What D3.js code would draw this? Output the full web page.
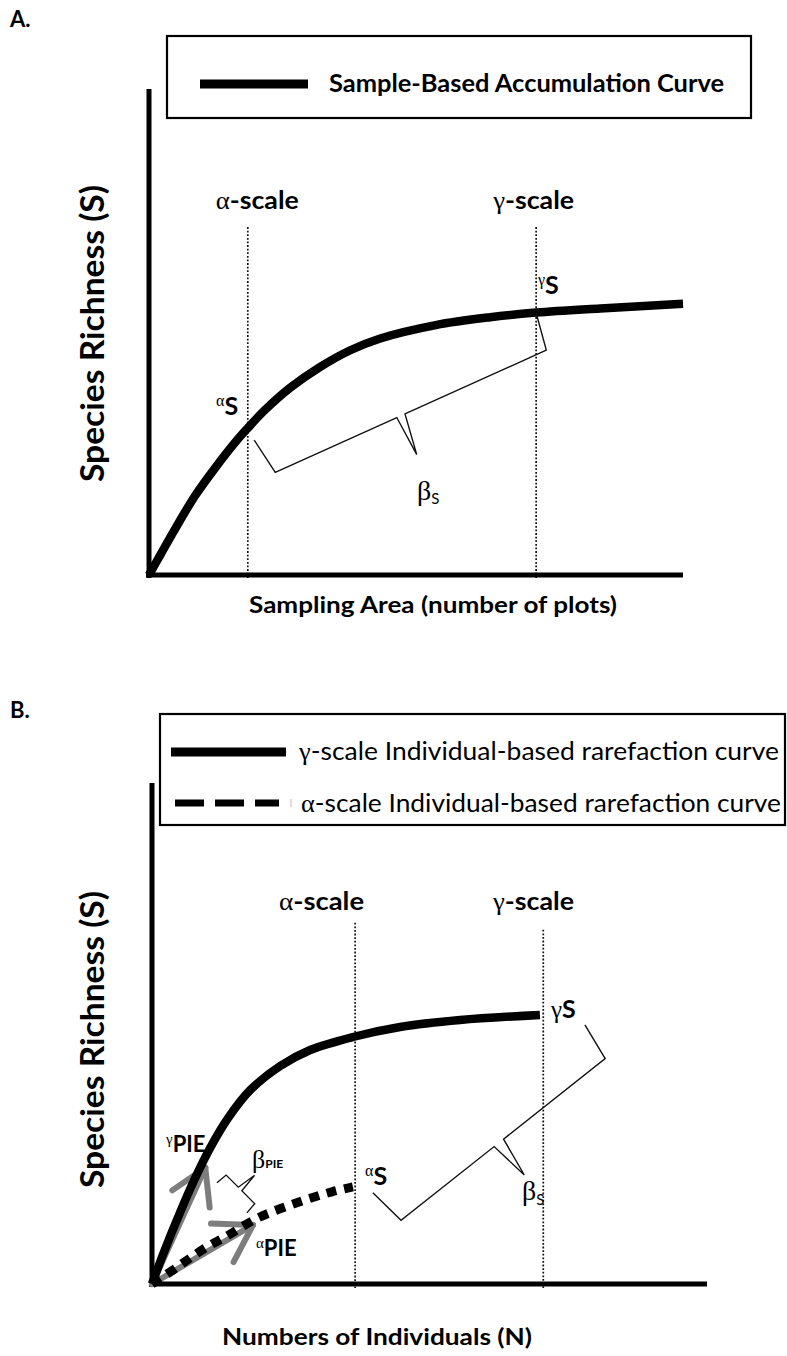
<!DOCTYPE html>
<html>
<head>
<meta charset="utf-8">
<script src="https://cdn.jsdelivr.net/npm/d3@7"></script>
<style>
  body { margin: 0; background: #fff; }
  svg { display: block; }
</style>
</head>
<body>
<svg id="fig" width="787" height="1356"></svg>
<script>
// ---------- Panel A: sample-based accumulation curve ----------
// x = sampling area (relative units, 0-100), y = species richness (relative units, 0-100)
const accumX = [0, 2.1, 4.9, 8.6, 12.4, 16.5, 18.5, 21.7, 26.4, 32.0, 37.6, 43.3, 53.7, 63.9, 72.5, 84.5, 100];
const accumY = [0, 4.3, 10.0, 17.1, 23.2, 29.2, 31.8, 35.7, 40.5, 45.0, 48.6, 51.2, 54.1, 55.8, 56.8, 57.7, 58.7];
const scaleNamesA = ["α", "γ"];
const scalePosA = [18.5, 72.5];

// ---------- Panel B: individual-based rarefaction curves ----------
// x = number of individuals (relative units), y = species richness (relative units)
const gammaX = [0, 2.3, 5.1, 7.8, 10.5, 13.7, 17.7, 23.1, 28.5, 36.2, 44.7, 55.5, 69.9];
const gammaY = [0, 6.8, 14.4, 21.2, 27.2, 33.1, 38.7, 43.5, 46.7, 49.3, 51.3, 52.7, 53.7];
const alphaX = [0, 3.8, 6.9, 9.9, 13.2, 19.1, 26.1, 32.4, 36.2];
const alphaY = [0, 2.8, 5.2, 7.4, 9.4, 13.2, 16.2, 18.4, 19.4];
const scaleNamesB = ["α", "γ"];
const scalePosB = [36.6, 70.5];
// PIE: initial slope of each rarefaction curve, drawn as a tangent arrow
const pieEndX = [9.6, 18.2];   // γ, α
const pieEndY = [23.2, 11.8];

const SANS = "Lato, 'Open Sans', sans-serif";
const GREEK = "'Liberation Serif', 'DejaVu Serif', serif";
const GREY = "#7d7d7d";

const svg = d3.select("#fig");

// text with optional greek / super- / subscript pieces
function addText(g, x, y, parts, o = {}) {
  const t = g.append("text")
    .attr("x", x).attr("y", y)
    .attr("fill", "#000")
    .attr("font-family", SANS)
    .attr("font-size", o.size || 22)
    .attr("font-weight", o.weight || "bold");
  if (o.rotate) t.attr("transform", `rotate(-90 ${x} ${y})`);
  parts.forEach(p => {
    const s = t.append("tspan").text(p.t);
    if (p.greek) s.attr("font-family", GREEK).attr("font-weight", "normal");
    if (p.size) s.attr("font-size", p.size);
    if (p.dy) s.attr("dy", p.dy);
    if (p.weight) s.attr("font-weight", p.weight);
  });
  if (o.len) t.attr("textLength", o.len).attr("lengthAdjust", "spacingAndGlyphs");
  return t;
}

// rotated curly brace between two points, tip pointing to the label side
function brace(g, p1, p2, o) {
  const dx = p2[0] - p1[0], dy = p2[1] - p1[1], L = Math.hypot(dx, dy);
  const u = [dx / L, dy / L], n = [-u[1], u[0]];
  const at = (a, d) => [p1[0] + u[0] * a + n[0] * d, p1[1] + u[1] * a + n[1] * d];
  const t = L * o.tip;
  const half1 = [at(0, 0), at(o.inset, o.depth), at(t - o.gapL, o.depth), at(t, o.tipDepth)];
  const half2 = [at(t, o.tipDepth), at(t + o.gapR, o.depth), at(L - o.inset, o.depth), at(L, 0)];
  const line = d3.line();
  g.append("path").attr("d", line(half1) + line(half2))
    .attr("fill", "none").attr("stroke", "#111").attr("stroke-width", o.width || 1.4)
    .attr("stroke-linejoin", "miter");
}

// grey tangent line from origin ending in an open arrowhead
function tangentArrow(g, from, to, armLen, armAng) {
  g.append("line").attr("x1", from[0]).attr("y1", from[1]).attr("x2", to[0]).attr("y2", to[1])
    .attr("stroke", GREY).attr("stroke-width", 6).attr("stroke-linecap", "round");
  const back = Math.atan2(from[1] - to[1], from[0] - to[0]);
  [armAng, -armAng].forEach(a => {
    g.append("line")
      .attr("x1", to[0]).attr("y1", to[1])
      .attr("x2", to[0] + armLen * Math.cos(back + a))
      .attr("y2", to[1] + armLen * Math.sin(back + a))
      .attr("stroke", GREY).attr("stroke-width", 6).attr("stroke-linecap", "round");
  });
}

function dotted(g, x, y1, y2) {
  g.append("line").attr("x1", x).attr("x2", x).attr("y1", y1).attr("y2", y2)
    .attr("stroke", "#111").attr("stroke-width", 1.7).attr("stroke-dasharray", "1.8,1.8");
}

// ======================= Panel A =======================
const gA = svg.append("g");
const xA = d3.scaleLinear().domain([0, 100]).range([149, 683]);
const yA = d3.scaleLinear().domain([0, 100]).range([575, 113]);

addText(gA, 10, 27, [{ t: "A." }], { size: 22 });

// legend
gA.append("rect").attr("x", 167).attr("y", 36).attr("width", 584).attr("height", 82)
  .attr("fill", "none").attr("stroke", "#000").attr("stroke-width", 2.2);
gA.append("line").attr("x1", 200).attr("x2", 308).attr("y1", 84).attr("y2", 84)
  .attr("stroke", "#000").attr("stroke-width", 9);
addText(gA, 329, 92, [{ t: "Sample-Based Accumulation Curve" }], { size: 25, len: 395 });

// scale markers
scalePosA.forEach(v => dotted(gA, xA(v), yA(75.3), yA(-1.1)));
addText(gA, xA(scalePosA[0]) - 32, 209, [{ t: scaleNamesA[0], greek: true }, { t: "-scale" }], { size: 25, len: 83 });
addText(gA, xA(scalePosA[1]) - 43, 209, [{ t: scaleNamesA[1], greek: true }, { t: "-scale" }], { size: 25, len: 81 });

// axes
gA.append("line").attr("x1", xA(0)).attr("x2", xA(0)).attr("y1", yA(105.2)).attr("y2", yA(0) + 3)
  .attr("stroke", "#000").attr("stroke-width", 5);
gA.append("line").attr("x1", xA(0) - 3).attr("x2", xA(100)).attr("y1", yA(0)).attr("y2", yA(0))
  .attr("stroke", "#000").attr("stroke-width", 5);

// accumulation curve
const lineA = d3.line().x(d => xA(d[0])).y(d => yA(d[1])).curve(d3.curveCatmullRom.alpha(0.5));
gA.append("path").attr("d", lineA(d3.zip(accumX, accumY)))
  .attr("fill", "none").attr("stroke", "#000").attr("stroke-width", 8.5).attr("stroke-linecap", "butt");

// β diversity brace from αS to γS
brace(gA, [xA(19.7), yA(29.2)], [xA(72.5), yA(56.7)],
  { depth: 38, tipDepth: 80, tip: 0.46, gapL: 3, gapR: 6, inset: 6 });

addText(gA, 216, 415, [{ t: "α", greek: true, size: 16, dy: -9 }, { t: "S", dy: 9 }], { size: 25 });
addText(gA, 538, 294, [{ t: "γ", greek: true, size: 16, dy: -9 }, { t: "S", dy: 9 }], { size: 25 });
addText(gA, 417, 500, [{ t: "β", greek: true }, { t: "S", size: 15, dy: 4, weight: "normal" }], { size: 28, weight: "normal" });

// axis titles
addText(gA, 249, 613, [{ t: "Sampling Area (number of plots)" }], { size: 23, len: 368 });
addText(gA, 104, 482, [{ t: "Species Richness (S)" }], { size: 32, len: 297, rotate: true });

// ======================= Panel B =======================
const gB = svg.append("g");
const xB = d3.scaleLinear().domain([0, 100]).range([152, 707]);
const yB = d3.scaleLinear().domain([0, 100]).range([1284, 783]);

addText(gB, 10, 718, [{ t: "B." }], { size: 22 });

// legend
gB.append("rect").attr("x", 160).attr("y", 714).attr("width", 625).attr("height", 111)
  .attr("fill", "none").attr("stroke", "#000").attr("stroke-width", 2.2);
gB.append("line").attr("x1", 171).attr("x2", 286).attr("y1", 752).attr("y2", 752)
  .attr("stroke", "#000").attr("stroke-width", 9);
gB.append("line").attr("x1", 175).attr("x2", 279).attr("y1", 803).attr("y2", 803)
  .attr("stroke", "#000").attr("stroke-width", 7).attr("stroke-dasharray", "29,11");
gB.append("line").attr("x1", 291).attr("x2", 291).attr("y1", 799).attr("y2", 807)
  .attr("stroke", "#bbb").attr("stroke-width", 1);
addText(gB, 299, 760, [{ t: "γ", greek: true }, { t: "-scale Individual-based rarefaction curve" }],
  { size: 25, weight: "normal", len: 480 });
addText(gB, 301, 812, [{ t: "α", greek: true }, { t: "-scale Individual-based rarefaction curve" }],
  { size: 25, weight: "normal", len: 480 });

// scale markers
dotted(gB, xB(scalePosB[0]), yB(72.1), yB(-0.8));
dotted(gB, xB(scalePosB[1]), yB(70.7), yB(-0.8));
addText(gB, 279, 910, [{ t: scaleNamesB[0], greek: true }, { t: "-scale" }], { size: 25, len: 85 });
addText(gB, 493, 910, [{ t: scaleNamesB[1], greek: true }, { t: "-scale" }], { size: 25, len: 81 });

// axes
gB.append("line").attr("x1", xB(0)).attr("x2", xB(0)).attr("y1", yB(100)).attr("y2", yB(0) + 3)
  .attr("stroke", "#000").attr("stroke-width", 5);
gB.append("line").attr("x1", xB(0) - 3).attr("x2", xB(100)).attr("y1", yB(0)).attr("y2", yB(0))
  .attr("stroke", "#000").attr("stroke-width", 5);

// PIE tangents (drawn beneath the curves)
const origin = [xB(0), yB(0)];
tangentArrow(gB, origin, [xB(pieEndX[0]), yB(pieEndY[0])], 40, 0.54);
tangentArrow(gB, origin, [xB(pieEndX[1]), yB(pieEndY[1])], 42, 0.56);

// rarefaction curves
const lineB = d3.line().x(d => xB(d[0])).y(d => yB(d[1])).curve(d3.curveCatmullRom.alpha(0.5));
gB.append("path").attr("d", lineB(d3.zip(alphaX, alphaY)))
  .attr("fill", "none").attr("stroke", "#000").attr("stroke-width", 9).attr("stroke-dasharray", "10,8");
gB.append("path").attr("d", lineB(d3.zip(gammaX, gammaY)))
  .attr("fill", "none").attr("stroke", "#000").attr("stroke-width", 8.5);

// braces
brace(gB, [xB(39.8), yB(18.2)], [xB(78.0), yB(51.7)],
  { depth: 39, tipDepth: 80, tip: 0.48, gapL: 6, gapR: 6, inset: 5 });
brace(gB, [xB(17.1), yB(14.2)], [xB(11.7), yB(20.2)],
  { depth: 12, tipDepth: 32, tip: 0.5, gapL: 2, gapR: 3, inset: 1, width: 1.3 });

// labels
addText(gB, 551, 1018, [{ t: "γ", greek: true, size: 25 }, { t: "S" }], { size: 25 });
addText(gB, 365, 1185, [{ t: "α", greek: true, size: 16, dy: -9 }, { t: "S", dy: 9 }], { size: 25 });
addText(gB, 522, 1200, [{ t: "β", greek: true }, { t: "S", size: 15, dy: 5, weight: "normal" }], { size: 28, weight: "normal" });
addText(gB, 166, 1152, [{ t: "γ", greek: true, size: 15, dy: -8 }, { t: "PIE", dy: 8 }], { size: 22 });
addText(gB, 256, 1256, [{ t: "α", greek: true, size: 15, dy: -8 }, { t: "PIE", dy: 8 }], { size: 22 });
addText(gB, 252, 1168, [{ t: "β", greek: true }, { t: "PIE", size: 12, weight: "bold" }], { size: 26, weight: "normal" });

// axis titles
addText(gB, 222, 1345, [{ t: "Numbers of Individuals (N)" }], { size: 23, len: 310 });
addText(gB, 104, 1188, [{ t: "Species Richness (S)" }], { size: 32, len: 297, rotate: true });
</script>
</body>
</html>
